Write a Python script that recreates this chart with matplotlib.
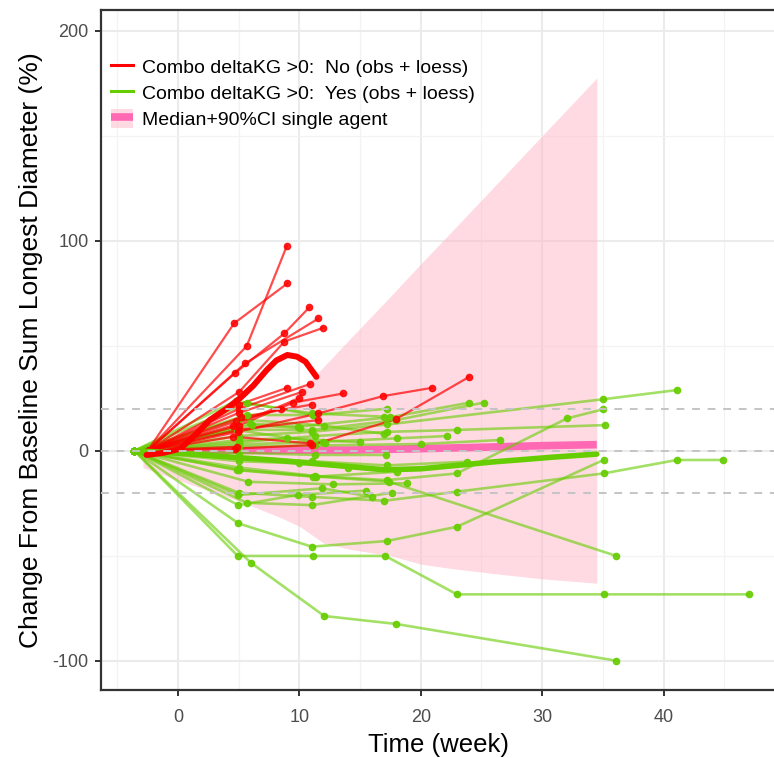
import matplotlib
matplotlib.use("Agg")
import matplotlib.pyplot as plt
from matplotlib.lines import Line2D
from matplotlib.patches import Patch
from matplotlib.ticker import MultipleLocator

plt.rcParams['font.family'] = ['Liberation Sans', 'DejaVu Sans']
plt.rcParams['axes.unicode_minus'] = False

# ---- Combo deltaKG > 0: No  (individual patients, week vs % change) ----
no_weeks = [
    [-2.5, 5.66, 8.96],
    [-2.5, 4.62, 9.01],
    [-2.5, 4.72, 8.76, 10.82],
    [-2.5, 5.52, 11.57],
    [-2.5, 5.05, 8.76, 11.98],
    [-2.5, 5.05, 10.88],
    [-2.5, 5.0, 9.46, 13.63],
    [-2.5, 4.9, 11.57, 16.88, 20.96],
    [-2.5, 4.7, 11.02, 17.97, 23.99],
    [-2.5, 5.0, 11.57],
    [-2.5, 4.53, 10.88],
    [-2.5, 4.84],
    [-2.5, 5.0, 10.2],
    [-2.5, 4.8, 8.5],
    [-2.5, 5.0, 9.0],
    [-2.5, 4.5, 10.0],
    [-2.5, 5.2, 11.0],
]
no_values = [
    [0, 49.9, 97.5],
    [0, 60.7, 79.7],
    [0, 37.1, 55.9, 68.3],
    [0, 41.6, 63.0],
    [0, 28.1, 52.0, 58.6],
    [0, 20.0, 31.8],
    [0, 12.0, 22.9, 27.3],
    [0, 9.0, 17.8, 26.0, 30.0],
    [0, 1.0, 2.7, 15.1, 35.2],
    [0, 10.0, 14.6],
    [0, 6.7, 3.5],
    [0, 1.9],
    [0, 18.0, 28.0],
    [0, 14.0, 20.0],
    [0, 22.0, 30.0],
    [0, 12.0, 25.0],
    [0, 16.0, 22.0],
]

# ---- Combo deltaKG > 0: Yes ----
yes_weeks = [
    [-3.6, 4.92, 11.1, 17.07, 22.98, 35.06, 47.02],
    [-3.6, 5.99, 12.04, 17.97, 36.11],
    [-3.6, 4.97, 11.02, 17.2, 22.98, 35.06],
    [-3.6, 5.0, 11.4, 17.35, 36.11],
    [-3.6, 5.0, 11.0, 17.2, 35.01, 41.11],
    [-3.6, 5.0, 11.0, 17.0, 22.98, 35.06, 41.11, 44.9],
    [-3.6, 5.0, 11.3, 17.2, 22.98, 35.14],
    [-3.6, 5.0, 11.3, 17.2, 22.98, 32.04, 35.01],
    [-3.6, 4.78, 11.15],
    [-3.6, 5.66, 11.02, 17.0],
    [-3.6, 5.94, 9.92, 17.5, 23.99],
    [-3.6, 5.0, 11.02, 17.97, 25.17],
    [-3.6, 5.0, 11.98, 18.03, 22.15],
    [-3.6, 5.0, 11.3, 20.03, 26.55],
    [-3.6, 5.0, 11.3, 17.15],
    [-3.6, 5.8, 12.8, 18.85],
    [-3.6, 4.97, 11.85, 15.97],
    [-3.6, 5.66, 11.02, 17.6],
    [-3.6, 4.97, 9.9, 15.5],
    [-3.6, 4.84, 11.15, 18.0],
    [-3.6, 5.0, 9.0, 15.0],
    [-3.6, 5.0, 10.0, 14.0],
    [-3.6, 5.0, 11.0, 17.2, 23.8],
    [-3.6, 5.0, 12.0, 17.0],
    [-3.6, 4.84, 12.12],
    [-3.6, 6.08, 10.06],
    [-3.6, 5.66, 11.15, 17.2],
]
yes_values = [
    [0, -50.1, -50.1, -50.1, -68.4, -68.4, -68.4],
    [0, -53.3, -78.7, -82.5, -100.0],
    [0, -34.6, -45.7, -43.0, -36.2, -4.4],
    [0, -9.1, -12.3, -14.7, -50.1],
    [0, 7.0, 9.0, 12.5, 24.5, 28.9],
    [0, -20.0, -22.0, -23.8, -19.5, -10.8, -4.4, -4.4],
    [0, 4.0, 7.0, 9.0, 9.9, 12.2],
    [0, -8.0, -12.0, -14.0, -10.8, 15.4, 19.7],
    [0, 23.8, 17.0],
    [0, 22.6, 17.8, 16.2],
    [0, 13.0, 11.4, 16.0, 22.9],
    [0, 10.0, 9.9, 14.6, 22.9],
    [0, 3.0, 4.3, 5.9, 7.0],
    [0, 2.0, 2.5, 3.2, 5.1],
    [0, -1.0, -2.0, -2.0],
    [0, -14.8, -16.0, -15.5],
    [0, -21.1, -17.9, -21.9],
    [0, -24.8, -25.9, -20.0],
    [0, -25.9, -21.0, -19.0],
    [0, -9.2, -12.4, -10.0],
    [0, 5.0, 6.0, 4.0],
    [0, -5.0, -6.0, -8.0],
    [0, -3.0, -5.0, -7.0, -5.2],
    [0, 15.0, 12.0, 8.0],
    [0, 9.9, 3.5],
    [0, 12.2, 10.8],
    [0, 17.0, 17.0, 20.0],
]

# ---- loess smooths ----
no_loess_weeks = [-2.6, -1.2, 0.2, 1.5, 2.6, 4.0, 5.1, 6.2, 7.3, 8.1, 9.0, 9.8, 10.5, 11.0, 11.4]
no_loess_values = [-2, -1, 1, 8, 14.6, 20, 25, 31, 38.4, 43, 45.6, 44.8, 42.4, 38.4, 35.2]
yes_loess_weeks = [-3.6, -1, 2, 5, 8, 11, 14.2, 17, 20, 23.3, 26, 28, 31, 34.5]
yes_loess_values = [0, -0.8, -2, -3.3, -4.5, -6, -7.6, -9.1, -8.6, -6.8, -5.3, -4.4, -3, -1.6]

# ---- single-agent model: median and 90% CI ----
sa_weeks = [-2.9, -1, 1, 3, 5, 6.8, 8.5, 10, 11, 12, 14.2, 17.5, 20, 22.4, 26, 30, 34.5]
sa_median = [0, 0, 0.1, 0.1, 0.2, 0.2, 0.2, 0.3, 0.3, 0.3, 0.3, 0.7, 1.0, 1.3, 1.8, 2.4, 2.9]
sa_lower = [-8, -12, -16, -20, -24, -28, -32, -36, -40, -44, -47, -50, -54, -56, -58.5, -61, -63.1]
sa_upper = [3, 5, 7, 9, 11, 15, 21, 28, 34, 40, 53.5, 73.5, 89, 103.5, 125.5, 150, 177.5]

RED = '#FF0000'
GREEN = '#66CD00'
PINK_FILL = '#FFB6C8'
PINK_LINE = '#FF69B4'

fig = plt.figure(figsize=(7.74, 7.58), dpi=100)
W, H = 774, 758
ax = fig.add_axes([101 / W, (H - 690) / H, 676 / W, 680 / H])

ax.set_xlim(-6.35, 49.35)
ax.set_ylim(-113.95, 209.9)

# grid
ax.xaxis.set_major_locator(MultipleLocator(10))
ax.xaxis.set_minor_locator(MultipleLocator(5))
ax.yaxis.set_major_locator(MultipleLocator(100))
ax.yaxis.set_minor_locator(MultipleLocator(50))
ax.grid(which='major', color='#EBEBEB', lw=1.5, zorder=0)
ax.grid(which='minor', color='#F3F3F3', lw=0.9, zorder=0)
ax.set_axisbelow(True)

# single-agent ribbon and median
ax.fill_between(sa_weeks, sa_lower, sa_upper, color=PINK_FILL, alpha=0.5, lw=0, zorder=1)
ax.plot(sa_weeks, sa_median, color=PINK_LINE, lw=5.5, solid_capstyle='butt', zorder=2)

# individual trajectories
for wk, val in zip(yes_weeks, yes_values):
    ax.plot(wk, val, color=GREEN, lw=1.9, alpha=0.6, zorder=3)
    ax.plot(wk, val, ls='none', marker='o', ms=4.5, color=GREEN, alpha=0.9, zorder=4)
for wk, val in zip(no_weeks, no_values):
    ax.plot(wk, val, color=RED, lw=1.6, alpha=0.7, zorder=3)
    ax.plot(wk, val, ls='none', marker='o', ms=4.5, color=RED, alpha=0.85, zorder=4)

# loess smooths
ax.plot(yes_loess_weeks, yes_loess_values, color=GREEN, lw=4, zorder=5, solid_capstyle='round')
ax.plot(no_loess_weeks, no_loess_values, color=RED, lw=4.3, zorder=5, solid_capstyle='round')

# reference lines
for yref in (-20, 0, 20):
    ax.axhline(yref, color='#C4C4C4', lw=1.4, ls=(0, (4, 4)), zorder=6)

# axes styling
for side in ('left', 'bottom', 'top', 'right'):
    ax.spines[side].set_color('#333333')
    ax.spines[side].set_linewidth(1.6)
ax.tick_params(axis='both', which='major', length=4, width=1.4, color='#333333',
               labelcolor='#4D4D4D', labelsize=13)
ax.tick_params(axis='x', which='major', pad=10)
ax.tick_params(axis='y', which='major', pad=5)
ax.tick_params(axis='both', which='minor', length=0)
ax.set_xticks([0, 10, 20, 30, 40])
ax.set_yticks([-100, 0, 100, 200])

ax.set_xlabel('Time (week)', fontsize=18.5, color='black', labelpad=5)
ax.set_ylabel('Change From Baseline Sum Longest Diameter (%)', fontsize=19,
              color='black', labelpad=7)

handles = [
    Line2D([], [], color=RED, lw=2.2),
    Line2D([], [], color=GREEN, lw=2.2),
    (Patch(facecolor=PINK_FILL, alpha=0.5, lw=0),
     Line2D([], [], color=PINK_LINE, lw=5.5, solid_capstyle='butt')),
]
labels = [
    'Combo deltaKG >0:  No (obs + loess)',
    'Combo deltaKG >0:  Yes (obs + loess)',
    'Median+90%CI single agent',
]
ax.legend(handles, labels, loc='upper left', bbox_to_anchor=(111 / W, 1 - 57 / H),
          bbox_transform=fig.transFigure, frameon=False, fontsize=14,
          handlelength=1.15, handleheight=1.15, handletextpad=0.45, labelspacing=0.3,
          borderaxespad=0, borderpad=0)

fig.savefig('out.png', dpi=100)
